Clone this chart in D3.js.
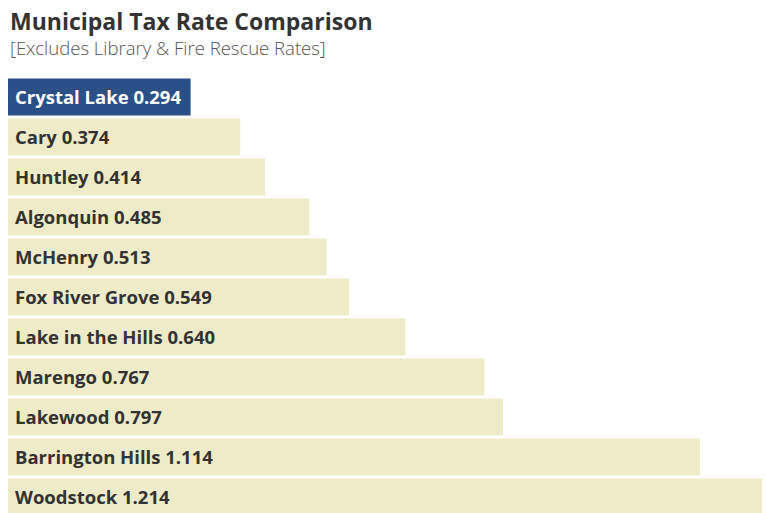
<!DOCTYPE html>
<html>
<head>
<meta charset="utf-8">
<script src="https://cdn.jsdelivr.net/npm/d3@7"></script>
<style>
  html, body { margin: 0; padding: 0; background: #ffffff; }
  svg { display: block; }
</style>
</head>
<body>
<svg id="chart" width="766" height="513"></svg>
<script>
// Municipal property tax rates, excluding library & fire rescue levies
const municipalities = ["Crystal Lake", "Cary", "Huntley", "Algonquin", "McHenry", "Fox River Grove",
  "Lake in the Hills", "Marengo", "Lakewood", "Barrington Hills", "Woodstock"];
const taxRates = [0.294, 0.374, 0.414, 0.485, 0.513, 0.549, 0.640, 0.767, 0.797, 1.114, 1.214];
const highlighted = "Crystal Lake";

const titleText = "Municipal Tax Rate Comparison";
const subtitleText = "[Excludes Library & Fire Rescue Rates]";

const svg = d3.select("#chart");
const FONT = "'Open Sans', Lato, sans-serif";

const data = municipalities.map((name, i) => ({ name, rate: taxRates[i] }));

const x = d3.scaleLinear().domain([0, 1.214]).range([8, 762]);
const y = d3.scaleBand()
  .domain(municipalities)
  .range([78.5, 78.5 + 40 * municipalities.length - 3])
  .paddingInner(0.075)
  .paddingOuter(0);

svg.append("text")
  .attr("x", 10).attr("y", 30)
  .attr("font-family", FONT)
  .attr("font-weight", 700)
  .attr("font-size", 23)
  .attr("fill", "#333333")
  .text(titleText);

svg.append("text")
  .attr("x", 10).attr("y", 55)
  .attr("font-family", FONT)
  .attr("font-weight", 300)
  .attr("font-size", 18.5)
  .attr("fill", "#555555")
  .text(subtitleText);

const rows = svg.append("g").selectAll("g")
  .data(data)
  .join("g");

rows.append("rect")
  .attr("x", x(0))
  .attr("y", d => y(d.name))
  .attr("width", d => x(d.rate) - x(0))
  .attr("height", y.bandwidth())
  .attr("fill", d => d.name === highlighted ? "#2b4f87" : "#eeecc8");

rows.append("text")
  .attr("x", 15)
  .attr("y", d => y(d.name) + y.bandwidth() / 2)
  .attr("dy", "0.38em")
  .attr("font-family", FONT)
  .attr("font-weight", 700)
  .attr("font-size", 18.5)
  .attr("fill", d => d.name === highlighted ? "#ffffff" : "#333333")
  .text(d => `${d.name} ${d3.format(".3f")(d.rate)}`);
</script>
</body>
</html>
